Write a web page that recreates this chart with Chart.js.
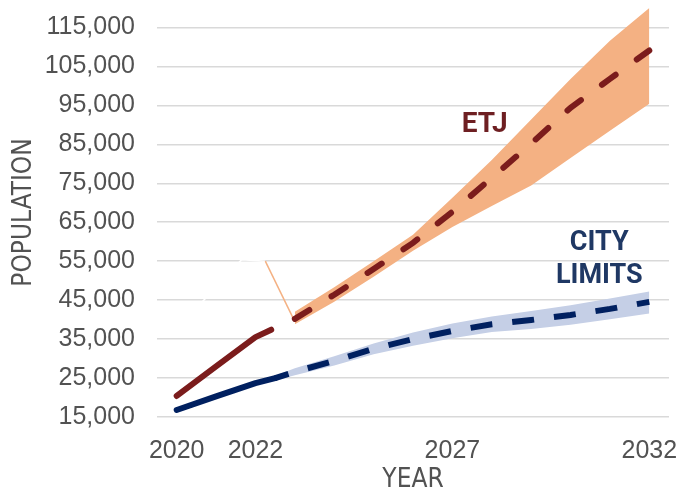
<!DOCTYPE html>
<html>
<head>
<meta charset="utf-8">
<script src="https://cdn.jsdelivr.net/npm/chart.js@4.4.1/dist/chart.umd.min.js"></script>
<style>
  html, body { margin: 0; padding: 0; background: #fff; }
  #chartPoblacion { display: block; }
</style>
</head>
<body>
<canvas id="chartPoblacion" width="687" height="496"></canvas>
<script>
// ==============================
//  DATOS
// ==============================
const xTicks = [2020, 2022, 2027, 2032];
const yTicks = [15000, 25000, 35000, 45000, 55000, 65000, 75000, 85000, 95000, 105000, 115000];

// ETJ historico y proyeccion
const etjHistYears = [2020, 2021, 2022, 2022.4];
const etjHist = [20400, 28000, 35500, 37400];
const etjYears = [2023, 2024, 2025, 2026, 2027, 2028, 2029, 2030, 2031, 2032];
const etjForecast = [40200, 46400, 53000, 59700, 67700, 76400, 85200, 94400, 101800, 109100];
const etjUpper = [42000, 48300, 55000, 61800, 71300, 81000, 91400, 101800, 111600, 120000];
const etjLower = [38800, 44600, 51000, 57700, 63800, 69200, 74400, 81500, 88500, 95400];

// Limites de la ciudad
const cityHistYears = [2020, 2021, 2022, 2022.5];
const cityHist = [16800, 20300, 23700, 25000];
const cityYears = [2022.5, 2023, 2024, 2025, 2026, 2027, 2028, 2029, 2030, 2031, 2032];
const cityForecast = [25000, 26600, 29400, 32500, 35000, 37100, 38800, 39900, 41200, 42750, 44550];
const cityUpper = [25600, 27500, 30600, 33900, 36700, 39000, 40800, 42200, 43700, 45400, 47200];
const cityLower = [24400, 25700, 28200, 31100, 33300, 35200, 36800, 37600, 38700, 40100, 41600];

// Restos del grafico original (trazo suelto)
const spikeYears = [2022.25, 2022.95];
const spikeValues = [55000, 40500];
const ghostYears = [2020.1, 2021.65, 2022.25];
const ghostValues = [38600, 55400, 55000];

// Etiquetas de serie
const labelTexts = ["ETJ", "CITY", "LIMITS"];
const labelYears = [2027.82, 2030.73, 2030.73];
const labelValues = [90000, 59700, 51200];

// ==============================
//  FUNCIONES AUXILIARES
// ==============================
function pts(xs, ys) {
  return xs.map((x, i) => ({ x: x, y: ys[i] }));
}

function sinPadding(axis) {
  axis.paddingTop = 0;
  axis.paddingBottom = 0;
  axis.paddingLeft = 0;
  axis.paddingRight = 0;
}

const GRAY = "#525252";
const fontTicks = { family: "'Liberation Sans', Arial, sans-serif", size: 25 };
const fontTitle = { family: "'Liberation Sans Narrow', 'DejaVu Sans Condensed', sans-serif", size: 26 };

const seriesLabels = {
  id: "seriesLabels",
  afterDatasetsDraw(chart) {
    const { ctx, scales: { x, y } } = chart;
    const colors = ["#6e1f22", "#1f3864", "#1f3864"];
    ctx.save();
    ctx.textAlign = "center";
    ctx.textBaseline = "middle";
    labelTexts.forEach((t, i) => {
      ctx.font = "700 " + (i === 0 ? 28 : 27) + "px Roboto, 'Liberation Sans', sans-serif";
      ctx.fillStyle = colors[i];
      ctx.fillText(t, x.getPixelForValue(labelYears[i]), y.getPixelForValue(labelValues[i]));
    });
    ctx.restore();
  }
};

// ==============================
//  GRAFICO: POBLACION
// ==============================
const ctx = document.getElementById("chartPoblacion").getContext("2d");
new Chart(ctx, {
  type: "line",
  data: {
    datasets: [
      { label: "ETJ proyeccion", data: pts(etjYears, etjForecast), borderColor: "#7b1c1c",
        borderWidth: 6, borderDash: [17, 26], borderCapStyle: "round", fill: false },
      { label: "ETJ", data: pts(etjHistYears, etjHist), borderColor: "#7b1c1c",
        borderWidth: 6, borderCapStyle: "round", borderJoinStyle: "round", fill: false },
      { label: "Ciudad proyeccion", data: pts(cityYears, cityForecast), borderColor: "#002060",
        borderWidth: 6, borderDash: [22, 20], borderDashOffset: 8, fill: false },
      { label: "Ciudad", data: pts(cityHistYears, cityHist), borderColor: "#002060",
        borderWidth: 6, borderCapStyle: "round", borderJoinStyle: "round", fill: false },
      { label: "spike", data: pts(spikeYears, spikeValues), borderColor: "#f4b183",
        borderWidth: 1.5, fill: false },
      { label: "ETJ max", data: pts(etjYears, etjUpper), borderWidth: 0, borderColor: "transparent",
        backgroundColor: "#f4b183", fill: "+1" },
      { label: "ETJ min", data: pts(etjYears, etjLower), borderWidth: 0, borderColor: "transparent", fill: false },
      { label: "Ciudad max", data: pts(cityYears, cityUpper), borderWidth: 0, borderColor: "transparent",
        backgroundColor: "#c5cfe6", fill: "+1" },
      { label: "Ciudad min", data: pts(cityYears, cityLower), borderWidth: 0, borderColor: "transparent", fill: false },
      { label: "ghost", data: pts(ghostYears, ghostValues), borderColor: "#ffffff", borderWidth: 1.5, fill: false }
    ]
  },
  options: {
    responsive: false,
    animation: false,
    devicePixelRatio: 1,
    layout: { padding: { top: 8, right: 18, bottom: 0, left: 0 } },
    elements: { point: { radius: 0 }, line: { tension: 0 } },
    plugins: { legend: { display: false }, tooltip: { enabled: false } },
    scales: {
      x: {
        type: "linear",
        min: 2019.5,
        max: 2032.5,
        afterBuildTicks: (axis) => { axis.ticks = xTicks.map(v => ({ value: v })); },
        afterFit: (axis) => { axis.height = 79; sinPadding(axis); },
        grid: { display: false },
        border: { display: false },
        ticks: { color: GRAY, font: fontTicks, padding: 11, autoSkip: false, maxRotation: 0,
          callback: (v) => String(v) },
        title: { display: true, text: "YEAR", color: GRAY, font: fontTitle, padding: { top: 0, bottom: 0 } }
      },
      y: {
        min: 15000,
        max: 120000,
        afterBuildTicks: (axis) => { axis.ticks = yTicks.map(v => ({ value: v })); },
        afterFit: (axis) => { axis.width = 157; sinPadding(axis); },
        grid: { color: "#d9d9d9", lineWidth: 1.5, drawTicks: false },
        border: { display: false },
        ticks: { color: GRAY, font: fontTicks, padding: 22,
          callback: (v) => v.toLocaleString("en-US") },
        title: { display: true, text: "POPULATION", color: GRAY, font: fontTitle, padding: { top: 9, bottom: 0 } }
      }
    }
  },
  plugins: [seriesLabels]
});
</script>
</body>
</html>
